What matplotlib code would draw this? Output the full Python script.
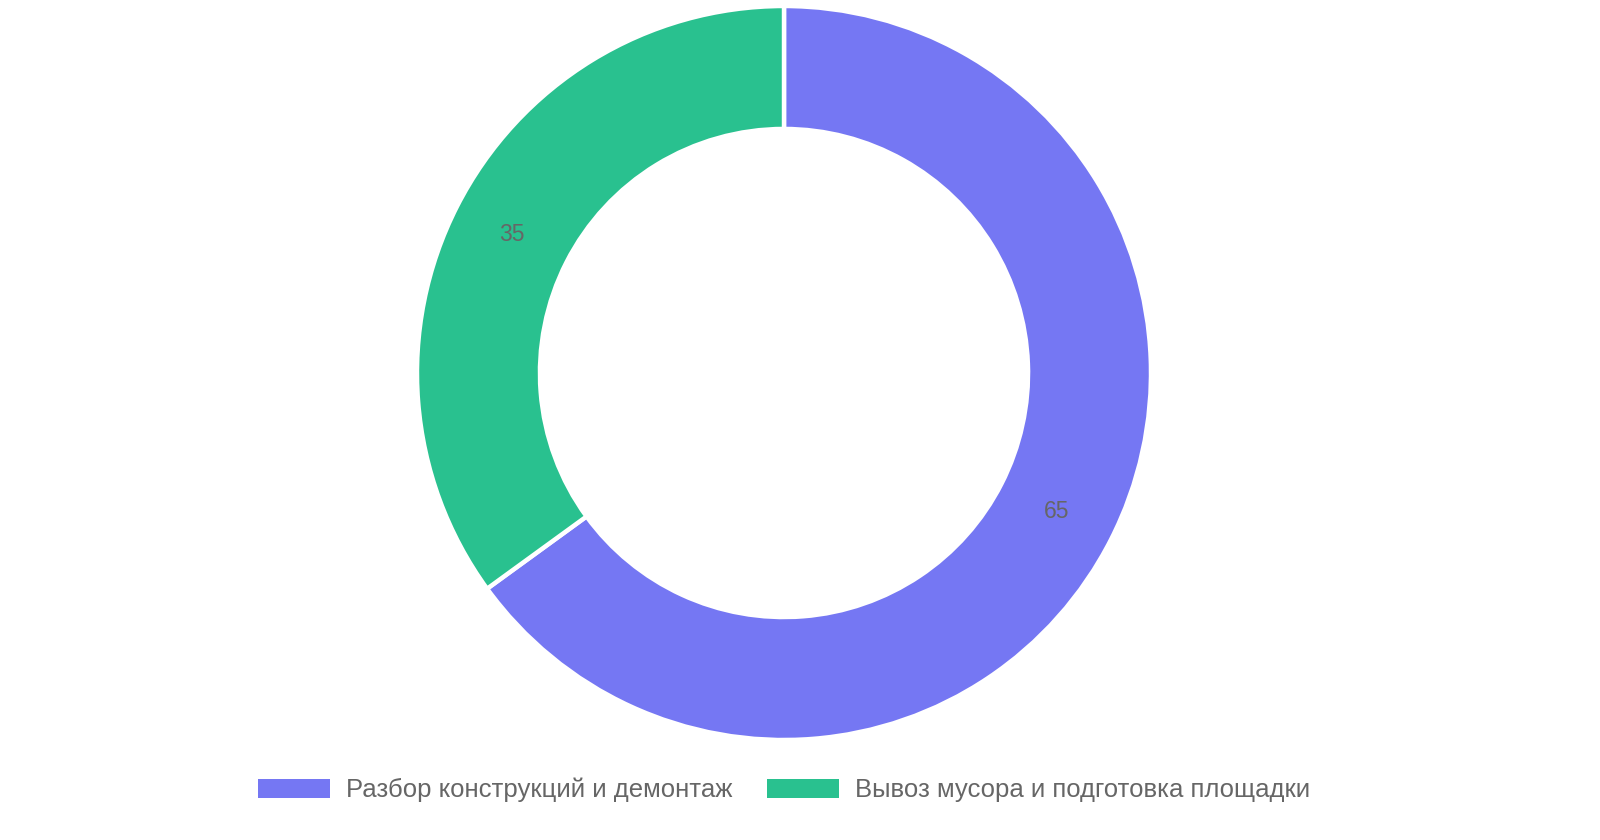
import matplotlib
matplotlib.use("Agg")
import matplotlib.pyplot as plt
from matplotlib.patches import Patch

plt.rcParams['font.family'] = ['Liberation Sans', 'DejaVu Sans']

categories = ["Разбор конструкций и демонтаж", "Вывоз мусора и подготовка площадки"]
values = [65, 35]
colors = ["#7577F3", "#29C18F"]
text_color = "#666666"

W, H = 1600, 840
fig = plt.figure(figsize=(W / 100, H / 100), dpi=100)

cx, cy, R = 784, 373, 367
ax = fig.add_axes([(cx - R) / W, (H - cy - R) / H, 2 * R / W, 2 * R / H])
total = sum(values)
wedges, texts, autotexts = ax.pie(
    values, colors=colors, startangle=90, counterclock=False, radius=1,
    wedgeprops=dict(width=0.335, edgecolor="white", linewidth=3.2),
    autopct=lambda p: f"{round(p * total / 100)}", pctdistance=0.8325,
    textprops=dict(color=text_color, fontsize=16.5),
)
ax.set_xlim(-1, 1)
ax.set_ylim(-1, 1)
ax.set_aspect("equal")
ax.axis("off")

handles = [Patch(facecolor=c, edgecolor="none") for c in colors]
fs = 18.5
px = fs * 100 / 72
fig.legend(handles, categories, loc="center", ncol=2, frameon=False,
           bbox_to_anchor=(cx / W, 1 - 790 / H),
           handlelength=72 / px, handleheight=20 / px, handletextpad=16 / px,
           columnspacing=34 / px, fontsize=fs, labelcolor=text_color)

fig.savefig("out.png", dpi=100, facecolor="white")
